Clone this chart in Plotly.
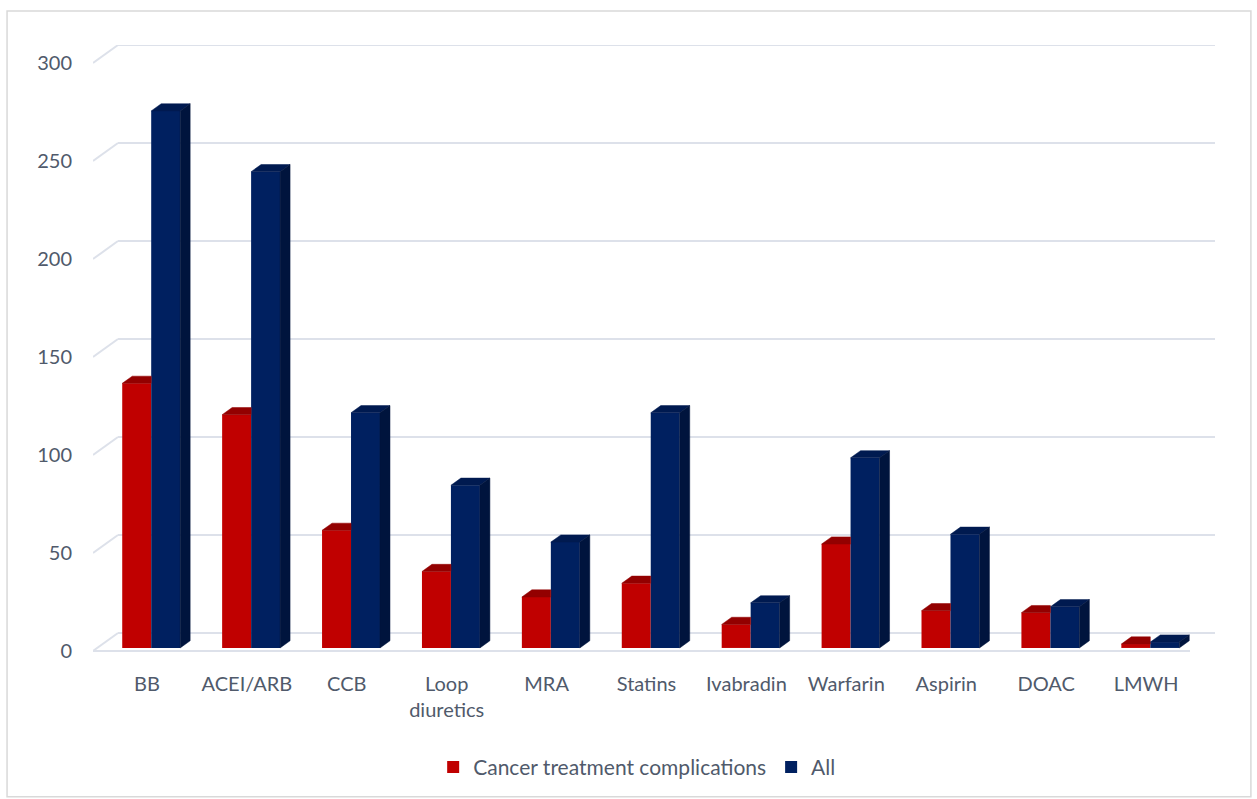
import plotly.graph_objects as go

categories = ["BB", "ACEI/ARB", "CCB", "Loop<br>diuretics", "MRA", "Statins",
              "Ivabradin", "Warfarin", "Aspirin", "DOAC", "LMWH"]
cancer = [135, 119, 60, 39, 26, 33, 12, 53, 19, 18, 2]
all_pts = [274, 243, 120, 83, 54, 120, 23, 97, 58, 21, 3]
y_ticks = [0, 50, 100, 150, 200, 250, 300]

RED, RED_TOP = "#C00000", "#930000"
BLUE, BLUE_TOP, BLUE_SIDE = "#002060", "#001A50", "#00143D"
GRID = "#DDE1EA"
TEXT = "#505A6B"
FONT = "Lato"

# oblique projection of the depth axis (in data units)
DEPTH_X, DEPTH_Y = 0.25, 9.17
BAR_FRONT, BAR_DEPTH = 0.17, 0.40
HALF = 0.29
X_MIN, X_MAX = -0.54, 10.69
Y_MIN, Y_MAX = -1.53, 309.2

fx, fy = BAR_FRONT * DEPTH_X, BAR_FRONT * DEPTH_Y
ddx, ddy = BAR_DEPTH * DEPTH_X, BAR_DEPTH * DEPTH_Y
idx = list(range(len(categories)))

fig = go.Figure()

red_x = [i + fx - HALF / 2 for i in idx]
blue_x = [i + fx + HALF / 2 for i in idx]
fig.add_trace(go.Bar(x=red_x, y=cancer, base=fy, width=HALF, marker_color=RED,
                     marker_line_width=0, name="Cancer treatment complications"))
fig.add_trace(go.Bar(x=blue_x, y=all_pts, base=fy, width=HALF, marker_color=BLUE,
                     marker_line_width=0, name="All"))


def poly_trace(xs, ys, color):
    return go.Scatter(x=xs, y=ys, mode="lines", fill="toself", fillcolor=color,
                      line=dict(color=color, width=0.5), hoverinfo="skip",
                      showlegend=False)


# red top faces (right part hidden behind the blue column)
rx, ry = [], []
for c, v in zip(red_x, cancer):
    x0, x1, t = c - HALF / 2, c + HALF / 2, fy + v
    rx += [x0, x1, x1, x0 + ddx, x0, None]
    ry += [t, t, t + ddy, t + ddy, t, None]
fig.add_trace(poly_trace(rx, ry, RED_TOP))

# blue top and side faces
tx, ty, sx, sy = [], [], [], []
for c, v in zip(blue_x, all_pts):
    x0, x1, t = c - HALF / 2, c + HALF / 2, fy + v
    tx += [x0, x1, x1 + ddx, x0 + ddx, x0, None]
    ty += [t, t, t + ddy, t + ddy, t, None]
    sx += [x1, x1, x1 + ddx, x1 + ddx, x1, None]
    sy += [fy, t, t + ddy, fy + ddy, fy, None]
fig.add_trace(poly_trace(tx, ty, BLUE_TOP))
fig.add_trace(poly_trace(sx, sy, BLUE_SIDE))

# back-wall gridlines with their slanted side-wall segments
shapes = []
line_style = dict(color=GRID, width=2)
for v in y_ticks:
    shapes.append(dict(type="line", xref="x", yref="y", layer="below",
                       x0=X_MIN, y0=v, x1=X_MIN + DEPTH_X, y1=v + DEPTH_Y, line=line_style))
    shapes.append(dict(type="line", xref="x", yref="y", layer="below",
                       x0=X_MIN + DEPTH_X, y0=v + DEPTH_Y, x1=X_MAX, y1=v + DEPTH_Y,
                       line=line_style))
# front edge of the floor
shapes.append(dict(type="line", xref="x", yref="y", layer="below",
                   x0=X_MIN, y0=0, x1=X_MAX - DEPTH_X, y1=0, line=line_style))
# chart border
shapes.append(dict(type="rect", xref="paper", yref="paper", layer="below",
                   x0=-0.0766, y0=-0.2344, x1=1.032, y1=1.056,
                   line=dict(color="#D9D9D9", width=1.5)))

fig.update_layout(
    width=1257, height=799,
    margin=dict(l=93, r=42, t=45, b=144),
    paper_bgcolor="white", plot_bgcolor="white",
    barmode="overlay",
    shapes=shapes,
    font=dict(family=FONT, size=20, color=TEXT),
    legend=dict(orientation="h", x=0.485, xanchor="center", y=-0.184, yanchor="middle",
                font=dict(family=FONT, size=21, color=TEXT), traceorder="normal"),
    xaxis=dict(range=[X_MIN, X_MAX], tickvals=idx, ticktext=categories,
               showgrid=False, zeroline=False, showline=False, ticks="",
               ticklabelstandoff=16, fixedrange=True),
    yaxis=dict(range=[Y_MIN, Y_MAX], tickvals=y_ticks, showgrid=False,
               zeroline=False, showline=False, ticks="", ticklabelstandoff=20,
               fixedrange=True),
)

fig.write_html("out.html")
